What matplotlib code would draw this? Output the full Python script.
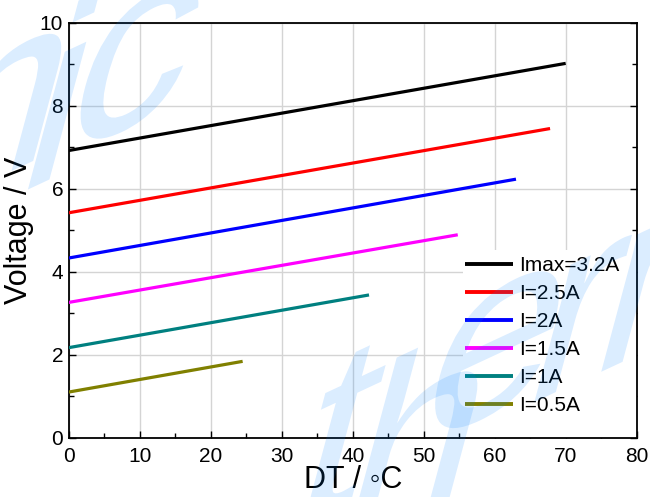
import numpy as np
import matplotlib
matplotlib.use("Agg")
import matplotlib.pyplot as plt
from matplotlib.ticker import MultipleLocator
from matplotlib.textpath import TextPath
from matplotlib.patches import PathPatch, Rectangle
from matplotlib.transforms import Affine2D
from matplotlib.font_manager import FontProperties

plt.rcParams['font.family'] = ['Liberation Sans', 'DejaVu Sans']

# Data (endpoints of each straight line)
labels = ["Imax=3.2A", "I=2.5A", "I=2A", "I=1.5A", "I=1A", "I=0.5A"]
dt_imax = [0, 70.0];  v_imax = [6.92, 9.02]
dt_25 = [0, 67.8];    v_25 = [5.42, 7.45]
dt_20 = [0, 63.0];    v_20 = [4.33, 6.23]
dt_15 = [0, 54.8];    v_15 = [3.26, 4.89]
dt_10 = [0, 42.3];    v_10 = [2.17, 3.44]
dt_05 = [0, 24.5];    v_05 = [1.10, 1.84]
colors = ["#000000", "#FF0000", "#0000FF", "#FF00FF", "#008080", "#808000"]

xs = [dt_imax, dt_25, dt_20, dt_15, dt_10, dt_05]
ys = [v_imax, v_25, v_20, v_15, v_10, v_05]

W, H = 650, 497
fig = plt.figure(figsize=(W / 100, H / 100), dpi=100)
ax = fig.add_axes([0.1057, 0.1193, 0.8738, 0.835])

for x, y, c, lab in zip(xs, ys, colors, labels):
    ax.plot(x, y, color=c, lw=2.3, label=lab, solid_capstyle='butt', zorder=3)

ax.set_xlim(0, 80)
ax.set_ylim(0, 10)
ax.xaxis.set_major_locator(MultipleLocator(10))
ax.xaxis.set_minor_locator(MultipleLocator(5))
ax.yaxis.set_major_locator(MultipleLocator(2))
ax.yaxis.set_minor_locator(MultipleLocator(1))
ax.grid(True, which='major', color='#d4d4d4', lw=1.0, zorder=0)
ax.set_axisbelow(True)

ax.tick_params(which='both', direction='in', top=False, right=True,
               labelsize=15, width=1.0, colors='black')
ax.tick_params(which='major', length=5, pad=7)
ax.tick_params(which='minor', length=3.5)
ax.tick_params(axis='y', which='major', pad=4)
for s in ax.spines.values():
    s.set_linewidth(1.3)
    s.set_color('black')

ax.set_xlabel("DT / \u25E6C", fontsize=22, labelpad=-1)
ax.set_ylabel("Voltage / V", fontsize=22, labelpad=4)

# white legend background reaching the right and bottom spines
ax.add_patch(Rectangle((0.694, 0.0), 0.306, 0.452, transform=ax.transAxes,
                       facecolor='white', edgecolor='none', zorder=1.5))

leg = ax.legend(loc='upper left', bbox_to_anchor=(0.6975, 0.437), fontsize=15,
                frameon=False, borderaxespad=0.0, borderpad=0.0,
                handlelength=2.3, handletextpad=0.3, labelspacing=0.43)
for line in leg.get_lines():
    line.set_linewidth(2.8)

# Watermark overlay: individually placed sheared glyphs
def glyph(ch, center_img, em=270, base_deg=25, up_deg=75):
    tp = TextPath((0, 0), ch, size=1,
                  prop=FontProperties(family='Liberation Sans'))
    ext = tp.get_extents()
    gc = np.array([(ext.x0 + ext.x1) / 2, (ext.y0 + ext.y1) / 2])
    b = np.radians(base_deg); u = np.radians(up_deg)
    A = np.array([[em * np.cos(b), em * np.cos(u)],
                  [em * np.sin(b), em * np.sin(u)]])
    target = np.array([center_img[0], H - center_img[1]])
    o = target - A @ gc
    m = np.array([[A[0, 0], A[0, 1], o[0]],
                  [A[1, 0], A[1, 1], o[1]],
                  [0, 0, 1]])
    fig.patches.append(PathPatch(tp, transform=Affine2D(m),
                                 facecolor=(0.0, 0.5, 1.0), edgecolor='none',
                                 alpha=0.14, zorder=10))

wm_chars = ["n", "i", "c", "t", "h", "e", "r", "m"]
wm_centers = [(0, 115), (64, 90), (138, 62),
              (342, 433), (423, 428), (497, 350), (583, 318), (705, 262)]
for ch, cxy in zip(wm_chars, wm_centers):
    glyph(ch, cxy)

fig.savefig("out.png", dpi=100)
